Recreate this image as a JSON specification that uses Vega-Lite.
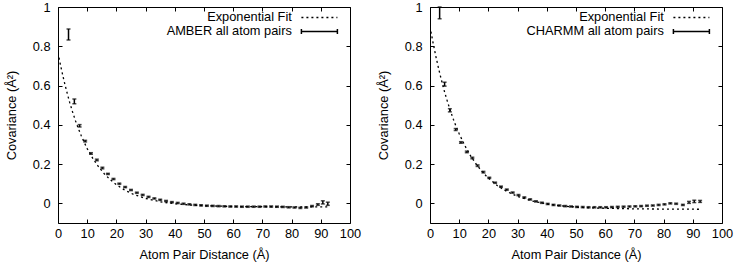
{
  "$schema": "https://vega.github.io/schema/vega-lite/v6.json",
  "padding": {"left": 4, "top": 0, "right": 4, "bottom": 0},
  "background": "white",
  "datasets": {
    "fitA": [
      {"series": "Exponential Fit", "d": 0, "cov": 0.767},
      {"series": "Exponential Fit", "d": 1, "cov": 0.694},
      {"series": "Exponential Fit", "d": 2, "cov": 0.628},
      {"series": "Exponential Fit", "d": 3, "cov": 0.569},
      {"series": "Exponential Fit", "d": 4, "cov": 0.514},
      {"series": "Exponential Fit", "d": 5, "cov": 0.465},
      {"series": "Exponential Fit", "d": 6, "cov": 0.420},
      {"series": "Exponential Fit", "d": 7, "cov": 0.380},
      {"series": "Exponential Fit", "d": 8, "cov": 0.343},
      {"series": "Exponential Fit", "d": 9, "cov": 0.310},
      {"series": "Exponential Fit", "d": 10, "cov": 0.279},
      {"series": "Exponential Fit", "d": 12, "cov": 0.227},
      {"series": "Exponential Fit", "d": 14, "cov": 0.184},
      {"series": "Exponential Fit", "d": 16, "cov": 0.148},
      {"series": "Exponential Fit", "d": 18, "cov": 0.119},
      {"series": "Exponential Fit", "d": 20, "cov": 0.095},
      {"series": "Exponential Fit", "d": 23, "cov": 0.066},
      {"series": "Exponential Fit", "d": 26, "cov": 0.045},
      {"series": "Exponential Fit", "d": 30, "cov": 0.025},
      {"series": "Exponential Fit", "d": 35, "cov": 0.008},
      {"series": "Exponential Fit", "d": 40, "cov": -0.002},
      {"series": "Exponential Fit", "d": 45, "cov": -0.008},
      {"series": "Exponential Fit", "d": 50, "cov": -0.012},
      {"series": "Exponential Fit", "d": 55, "cov": -0.014},
      {"series": "Exponential Fit", "d": 60, "cov": -0.016},
      {"series": "Exponential Fit", "d": 70, "cov": -0.017},
      {"series": "Exponential Fit", "d": 80, "cov": -0.018},
      {"series": "Exponential Fit", "d": 92.4, "cov": -0.018}
    ],
    "dataA": [
      {"series": "AMBER all atom pairs", "d": 3.6, "cov": 0.86, "err": 0.028},
      {"series": "AMBER all atom pairs", "d": 5.6, "cov": 0.519, "err": 0.012},
      {"series": "AMBER all atom pairs", "d": 7.4, "cov": 0.395, "err": 0.006},
      {"series": "AMBER all atom pairs", "d": 9.3, "cov": 0.317, "err": 0.004},
      {"series": "AMBER all atom pairs", "d": 11.3, "cov": 0.254, "err": 0.004},
      {"series": "AMBER all atom pairs", "d": 13.3, "cov": 0.221, "err": 0.004},
      {"series": "AMBER all atom pairs", "d": 15.2, "cov": 0.18, "err": 0.004},
      {"series": "AMBER all atom pairs", "d": 17.1, "cov": 0.15, "err": 0.003},
      {"series": "AMBER all atom pairs", "d": 19.0, "cov": 0.124, "err": 0.003},
      {"series": "AMBER all atom pairs", "d": 21, "cov": 0.10, "err": 0.003},
      {"series": "AMBER all atom pairs", "d": 23, "cov": 0.083, "err": 0.003},
      {"series": "AMBER all atom pairs", "d": 25, "cov": 0.068, "err": 0.003},
      {"series": "AMBER all atom pairs", "d": 27, "cov": 0.054, "err": 0.003},
      {"series": "AMBER all atom pairs", "d": 29, "cov": 0.043, "err": 0.003},
      {"series": "AMBER all atom pairs", "d": 31, "cov": 0.033, "err": 0.003},
      {"series": "AMBER all atom pairs", "d": 33, "cov": 0.025, "err": 0.003},
      {"series": "AMBER all atom pairs", "d": 35, "cov": 0.018, "err": 0.003},
      {"series": "AMBER all atom pairs", "d": 37, "cov": 0.012, "err": 0.003},
      {"series": "AMBER all atom pairs", "d": 39, "cov": 0.006, "err": 0.003},
      {"series": "AMBER all atom pairs", "d": 41, "cov": 0.002, "err": 0.003},
      {"series": "AMBER all atom pairs", "d": 43, "cov": -0.002, "err": 0.003},
      {"series": "AMBER all atom pairs", "d": 45, "cov": -0.005, "err": 0.003},
      {"series": "AMBER all atom pairs", "d": 47, "cov": -0.008, "err": 0.003},
      {"series": "AMBER all atom pairs", "d": 49, "cov": -0.010, "err": 0.003},
      {"series": "AMBER all atom pairs", "d": 51, "cov": -0.012, "err": 0.003},
      {"series": "AMBER all atom pairs", "d": 53, "cov": -0.013, "err": 0.003},
      {"series": "AMBER all atom pairs", "d": 55, "cov": -0.014, "err": 0.003},
      {"series": "AMBER all atom pairs", "d": 57, "cov": -0.015, "err": 0.003},
      {"series": "AMBER all atom pairs", "d": 59, "cov": -0.016, "err": 0.003},
      {"series": "AMBER all atom pairs", "d": 61, "cov": -0.016, "err": 0.003},
      {"series": "AMBER all atom pairs", "d": 63, "cov": -0.017, "err": 0.003},
      {"series": "AMBER all atom pairs", "d": 65, "cov": -0.017, "err": 0.003},
      {"series": "AMBER all atom pairs", "d": 67, "cov": -0.017, "err": 0.003},
      {"series": "AMBER all atom pairs", "d": 69, "cov": -0.017, "err": 0.003},
      {"series": "AMBER all atom pairs", "d": 71, "cov": -0.016, "err": 0.003},
      {"series": "AMBER all atom pairs", "d": 73, "cov": -0.016, "err": 0.003},
      {"series": "AMBER all atom pairs", "d": 75, "cov": -0.017, "err": 0.003},
      {"series": "AMBER all atom pairs", "d": 77, "cov": -0.018, "err": 0.003},
      {"series": "AMBER all atom pairs", "d": 79, "cov": -0.020, "err": 0.003},
      {"series": "AMBER all atom pairs", "d": 81, "cov": -0.021, "err": 0.003},
      {"series": "AMBER all atom pairs", "d": 83, "cov": -0.023, "err": 0.003},
      {"series": "AMBER all atom pairs", "d": 85, "cov": -0.021, "err": 0.003},
      {"series": "AMBER all atom pairs", "d": 87, "cov": -0.014, "err": 0.003},
      {"series": "AMBER all atom pairs", "d": 89, "cov": -0.006, "err": 0.004},
      {"series": "AMBER all atom pairs", "d": 90.7, "cov": 0.005, "err": 0.008},
      {"series": "AMBER all atom pairs", "d": 92.4, "cov": -0.002, "err": 0.008}
    ],
    "fitB": [
      {"series": "Exponential Fit", "d": 0, "cov": 0.900},
      {"series": "Exponential Fit", "d": 1, "cov": 0.821},
      {"series": "Exponential Fit", "d": 2, "cov": 0.749},
      {"series": "Exponential Fit", "d": 3, "cov": 0.683},
      {"series": "Exponential Fit", "d": 4, "cov": 0.623},
      {"series": "Exponential Fit", "d": 5, "cov": 0.567},
      {"series": "Exponential Fit", "d": 6, "cov": 0.517},
      {"series": "Exponential Fit", "d": 7, "cov": 0.471},
      {"series": "Exponential Fit", "d": 8, "cov": 0.428},
      {"series": "Exponential Fit", "d": 9, "cov": 0.389},
      {"series": "Exponential Fit", "d": 10, "cov": 0.354},
      {"series": "Exponential Fit", "d": 12, "cov": 0.292},
      {"series": "Exponential Fit", "d": 14, "cov": 0.239},
      {"series": "Exponential Fit", "d": 16, "cov": 0.196},
      {"series": "Exponential Fit", "d": 18, "cov": 0.159},
      {"series": "Exponential Fit", "d": 20, "cov": 0.128},
      {"series": "Exponential Fit", "d": 23, "cov": 0.091},
      {"series": "Exponential Fit", "d": 26, "cov": 0.063},
      {"series": "Exponential Fit", "d": 30, "cov": 0.035},
      {"series": "Exponential Fit", "d": 35, "cov": 0.012},
      {"series": "Exponential Fit", "d": 40, "cov": -0.003},
      {"series": "Exponential Fit", "d": 45, "cov": -0.013},
      {"series": "Exponential Fit", "d": 50, "cov": -0.019},
      {"series": "Exponential Fit", "d": 55, "cov": -0.023},
      {"series": "Exponential Fit", "d": 60, "cov": -0.025},
      {"series": "Exponential Fit", "d": 70, "cov": -0.028},
      {"series": "Exponential Fit", "d": 80, "cov": -0.029},
      {"series": "Exponential Fit", "d": 92.5, "cov": -0.030}
    ],
    "dataB": [
      {"series": "CHARMM all atom pairs", "d": 3.3, "cov": 0.97, "err": 0.03},
      {"series": "CHARMM all atom pairs", "d": 5.0, "cov": 0.607, "err": 0.010},
      {"series": "CHARMM all atom pairs", "d": 6.8, "cov": 0.474, "err": 0.008},
      {"series": "CHARMM all atom pairs", "d": 8.8, "cov": 0.376, "err": 0.005},
      {"series": "CHARMM all atom pairs", "d": 10.6, "cov": 0.31, "err": 0.004},
      {"series": "CHARMM all atom pairs", "d": 12.6, "cov": 0.262, "err": 0.004},
      {"series": "CHARMM all atom pairs", "d": 14.5, "cov": 0.231, "err": 0.004},
      {"series": "CHARMM all atom pairs", "d": 16.3, "cov": 0.192, "err": 0.004},
      {"series": "CHARMM all atom pairs", "d": 18.3, "cov": 0.159, "err": 0.004},
      {"series": "CHARMM all atom pairs", "d": 20.3, "cov": 0.13, "err": 0.003},
      {"series": "CHARMM all atom pairs", "d": 22.3, "cov": 0.105, "err": 0.003},
      {"series": "CHARMM all atom pairs", "d": 24.3, "cov": 0.085, "err": 0.003},
      {"series": "CHARMM all atom pairs", "d": 26.3, "cov": 0.07, "err": 0.003},
      {"series": "CHARMM all atom pairs", "d": 28.3, "cov": 0.055, "err": 0.003},
      {"series": "CHARMM all atom pairs", "d": 30.3, "cov": 0.042, "err": 0.003},
      {"series": "CHARMM all atom pairs", "d": 32.3, "cov": 0.03, "err": 0.003},
      {"series": "CHARMM all atom pairs", "d": 34.3, "cov": 0.02, "err": 0.003},
      {"series": "CHARMM all atom pairs", "d": 36.3, "cov": 0.01, "err": 0.003},
      {"series": "CHARMM all atom pairs", "d": 38.3, "cov": 0.003, "err": 0.003},
      {"series": "CHARMM all atom pairs", "d": 40.3, "cov": -0.003, "err": 0.003},
      {"series": "CHARMM all atom pairs", "d": 42.3, "cov": -0.008, "err": 0.003},
      {"series": "CHARMM all atom pairs", "d": 44.3, "cov": -0.011, "err": 0.003},
      {"series": "CHARMM all atom pairs", "d": 46.3, "cov": -0.014, "err": 0.003},
      {"series": "CHARMM all atom pairs", "d": 48.3, "cov": -0.016, "err": 0.003},
      {"series": "CHARMM all atom pairs", "d": 50.3, "cov": -0.018, "err": 0.003},
      {"series": "CHARMM all atom pairs", "d": 52.3, "cov": -0.019, "err": 0.003},
      {"series": "CHARMM all atom pairs", "d": 54.3, "cov": -0.020, "err": 0.003},
      {"series": "CHARMM all atom pairs", "d": 56.3, "cov": -0.020, "err": 0.003},
      {"series": "CHARMM all atom pairs", "d": 58.3, "cov": -0.020, "err": 0.003},
      {"series": "CHARMM all atom pairs", "d": 60.3, "cov": -0.020, "err": 0.003},
      {"series": "CHARMM all atom pairs", "d": 62.3, "cov": -0.019, "err": 0.003},
      {"series": "CHARMM all atom pairs", "d": 64.3, "cov": -0.018, "err": 0.003},
      {"series": "CHARMM all atom pairs", "d": 66.3, "cov": -0.017, "err": 0.003},
      {"series": "CHARMM all atom pairs", "d": 68.3, "cov": -0.016, "err": 0.003},
      {"series": "CHARMM all atom pairs", "d": 70.3, "cov": -0.015, "err": 0.003},
      {"series": "CHARMM all atom pairs", "d": 72.3, "cov": -0.014, "err": 0.003},
      {"series": "CHARMM all atom pairs", "d": 74.3, "cov": -0.012, "err": 0.003},
      {"series": "CHARMM all atom pairs", "d": 76.3, "cov": -0.011, "err": 0.003},
      {"series": "CHARMM all atom pairs", "d": 78.3, "cov": -0.008, "err": 0.003},
      {"series": "CHARMM all atom pairs", "d": 80.3, "cov": -0.005, "err": 0.003},
      {"series": "CHARMM all atom pairs", "d": 82.3, "cov": 0.0, "err": 0.003},
      {"series": "CHARMM all atom pairs", "d": 84.3, "cov": -0.002, "err": 0.003},
      {"series": "CHARMM all atom pairs", "d": 86.6, "cov": -0.008, "err": 0.003},
      {"series": "CHARMM all atom pairs", "d": 88.7, "cov": 0.005, "err": 0.005},
      {"series": "CHARMM all atom pairs", "d": 90.5, "cov": 0.010, "err": 0.006},
      {"series": "CHARMM all atom pairs", "d": 92.5, "cov": 0.010, "err": 0.005}
    ]
  },
  "config": {
    "font": "Liberation Sans",
    "view": {"stroke": "#000", "strokeWidth": 1},
    "axis": {
      "grid": false, "domain": false, "tickColor": "#000", "tickWidth": 1, "tickSize": -4,
      "labelFlush": false, "labelOverlap": false,
      "labelFont": "Liberation Sans", "labelFontSize": 12.8, "labelColor": "#000",
      "titleFont": "Liberation Sans", "titleFontSize": 12.8, "titleFontWeight": "normal", "titleColor": "#000"
    },
    "legend": {
      "orient": "none", "legendX": 255, "legendY": 4, "title": null,
      "symbolType": "circle", "symbolSize": 100, "symbolStrokeWidth": 1.5,
      "symbolStrokeColor": "#000", "symbolFillColor": "transparent",
      "labelFont": "Liberation Sans", "labelFontSize": 12.8, "labelColor": "#000",
      "labelAlign": "right", "labelOffset": -34, "rowPadding": 0, "padding": 0,
      "labelLimit": 300
    }
  },
  "spacing": 80,
  "bounds": "flush",
  "resolve": {"scale": {"color": "independent"}, "legend": {"color": "independent"}},
  "hconcat": [
    {
      "width": 292, "height": 216,
      "resolve": {"axis": {"x": "independent", "y": "independent"}},
      "layer": [
        {
          "data": {"name": "fitA"},
          "mark": {"type": "line", "strokeDash": [2, 3], "strokeWidth": 1.3, "clip": true},
          "encoding": {
            "x": {"field": "d", "type": "quantitative", "scale": {"domain": [0, 100], "nice": false},
                  "axis": {"orient": "bottom", "values": [0,10,20,30,40,50,60,70,80,90,100], "labelPadding": 8, "title": "Atom Pair Distance (Å)", "titlePadding": 9}},
            "y": {"field": "cov", "type": "quantitative", "scale": {"domain": [-0.1, 1], "nice": false, "zero": false},
                  "axis": {"orient": "left", "values": [0,0.2,0.4,0.6,0.8,1], "format": "~g", "labelPadding": 12, "title": "Covariance (Å²)", "titlePadding": 14}},
            "color": {"field": "series", "type": "nominal",
                      "scale": {"domain": ["Exponential Fit", "AMBER all atom pairs"], "range": ["#000", "#000"]},
                      "legend": {"encode": {"symbols": {"update": {
                        "shape": {"signal": "datum.value == 'Exponential Fit' ? 'M-3.6,0L3.6,0' : 'M-3.6,-0.5L-3.6,0.5M-3.6,0L3.6,0M3.6,-0.5L3.6,0.5'"},
                        "strokeDash": {"signal": "datum.value == 'Exponential Fit' ? [2,3] : [1,0]"},
                        "stroke": {"value": "#000"},
                        "strokeWidth": {"value": 1.5},
                        "opacity": {"value": 1},
                        "fill": {"value": "transparent"}}}}}}
          }
        },
        {
          "data": {"name": "dataA"},
          "mark": {"type": "errorbar", "ticks": {"size": 4}, "thickness": 1.5},
          "encoding": {
            "x": {"field": "d", "type": "quantitative",
                  "axis": {"orient": "top", "values": [0,10,20,30,40,50,60,70,80,90,100], "labels": false, "title": null}},
            "y": {"field": "cov", "type": "quantitative",
                  "axis": {"orient": "right", "values": [0,0.2,0.4,0.6,0.8,1], "labels": false, "title": null}},
            "yError": {"field": "err"},
            "color": {"field": "series", "type": "nominal"}
          }
        }
      ]
    },
    {
      "width": 292, "height": 216,
      "resolve": {"axis": {"x": "independent", "y": "independent"}},
      "layer": [
        {
          "data": {"name": "fitB"},
          "mark": {"type": "line", "strokeDash": [2, 3], "strokeWidth": 1.3, "clip": true},
          "encoding": {
            "x": {"field": "d", "type": "quantitative", "scale": {"domain": [0, 100], "nice": false},
                  "axis": {"orient": "bottom", "values": [0,10,20,30,40,50,60,70,80,90,100], "labelPadding": 8, "title": "Atom Pair Distance (Å)", "titlePadding": 9}},
            "y": {"field": "cov", "type": "quantitative", "scale": {"domain": [-0.1, 1], "nice": false, "zero": false},
                  "axis": {"orient": "left", "values": [0,0.2,0.4,0.6,0.8,1], "format": "~g", "labelPadding": 12, "title": "Covariance (Å²)", "titlePadding": 14}},
            "color": {"field": "series", "type": "nominal",
                      "scale": {"domain": ["Exponential Fit", "CHARMM all atom pairs"], "range": ["#000", "#000"]},
                      "legend": {"encode": {"symbols": {"update": {
                        "shape": {"signal": "datum.value == 'Exponential Fit' ? 'M-3.6,0L3.6,0' : 'M-3.6,-0.5L-3.6,0.5M-3.6,0L3.6,0M3.6,-0.5L3.6,0.5'"},
                        "strokeDash": {"signal": "datum.value == 'Exponential Fit' ? [2,3] : [1,0]"},
                        "stroke": {"value": "#000"},
                        "strokeWidth": {"value": 1.5},
                        "opacity": {"value": 1},
                        "fill": {"value": "transparent"}}}}}}
          }
        },
        {
          "data": {"name": "dataB"},
          "mark": {"type": "errorbar", "ticks": {"size": 4}, "thickness": 1.5},
          "encoding": {
            "x": {"field": "d", "type": "quantitative",
                  "axis": {"orient": "top", "values": [0,10,20,30,40,50,60,70,80,90,100], "labels": false, "title": null}},
            "y": {"field": "cov", "type": "quantitative",
                  "axis": {"orient": "right", "values": [0,0.2,0.4,0.6,0.8,1], "labels": false, "title": null}},
            "yError": {"field": "err"},
            "color": {"field": "series", "type": "nominal"}
          }
        }
      ]
    }
  ]
}
